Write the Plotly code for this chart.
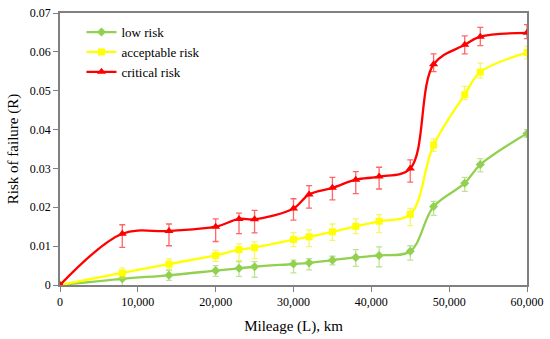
import plotly.graph_objects as go

mileage = [0, 8000, 14000, 20000, 23000, 25000, 30000, 32000, 35000, 38000, 41000, 45000, 48000, 52000, 54000, 60000]

low_risk = [0, 0.0016, 0.0025, 0.0037, 0.0043, 0.0047, 0.0054, 0.0057, 0.0064, 0.0071, 0.0076, 0.0087, 0.0202, 0.0262, 0.0310, 0.0390]
low_err_plus = [0, 0.0013, 0.0013, 0.0013, 0.0017, 0.0013, 0.0010, 0.0011, 0.0010, 0.0020, 0.0022, 0.0014, 0.0013, 0.0015, 0.0015, 0.0010]
low_err_minus = [0, 0.0018, 0.0013, 0.0015, 0.0021, 0.0027, 0.0023, 0.0018, 0.0012, 0.0023, 0.0029, 0.0023, 0.0023, 0.0021, 0.0019, 0.0010]

acceptable_risk = [0, 0.0031, 0.0054, 0.0076, 0.0091, 0.0096, 0.0117, 0.0124, 0.0137, 0.0151, 0.0164, 0.0182, 0.0360, 0.0490, 0.0548, 0.0598]
acc_err_plus = [0, 0.0013, 0.0013, 0.0013, 0.0015, 0.0015, 0.0018, 0.0018, 0.0020, 0.0019, 0.0017, 0.0015, 0.0016, 0.0021, 0.0023, 0.0016]
acc_err_minus = [0, 0.0013, 0.0013, 0.0015, 0.0028, 0.0028, 0.0018, 0.0025, 0.0022, 0.0019, 0.0029, 0.0029, 0.0016, 0.0013, 0.0015, 0.0016]

critical_risk = [0, 0.0132, 0.0139, 0.0150, 0.0170, 0.0169, 0.0197, 0.0233, 0.0250, 0.0271, 0.0279, 0.0300, 0.0568, 0.0618, 0.0639, 0.0649]
crit_err_plus = [0, 0.0023, 0.0018, 0.0020, 0.0015, 0.0023, 0.0025, 0.0023, 0.0027, 0.0021, 0.0024, 0.0022, 0.0027, 0.0023, 0.0024, 0.0021]
crit_err_minus = [0, 0.0035, 0.0038, 0.0038, 0.0038, 0.0035, 0.0030, 0.0035, 0.0031, 0.0036, 0.0032, 0.0035, 0.0019, 0.0023, 0.0023, 0.0015]

x_ticks = [0, 10000, 20000, 30000, 40000, 50000, 60000]
x_tick_labels = ["0", "10,000", "20,000", "30,000", "40,000", "50,000", "60,000"]
y_ticks = [0, 0.01, 0.02, 0.03, 0.04, 0.05, 0.06, 0.07]
y_tick_labels = ["0", "0.01", "0.02", "0.03", "0.04", "0.05", "0.06", "0.07"]

FONT = "Liberation Serif, DejaVu Serif, serif"

series = [
    ("low risk", low_risk, low_err_plus, low_err_minus, "#92D050", "rgba(146,208,80,0.6)", "diamond", 7),
    ("acceptable risk", acceptable_risk, acc_err_plus, acc_err_minus, "#FFFF00", "rgba(240,240,0,0.6)", "square", 7),
    ("critical risk", critical_risk, crit_err_plus, crit_err_minus, "#FF0000", "rgba(255,0,0,0.6)", "triangle-up", 8),
]

fig = go.Figure()
for name, vals, ep, em, col, ecol, sym, size in series:
    fig.add_trace(go.Scatter(
        x=mileage, y=vals, name=name, mode="lines+markers",
        line=dict(color=col, width=2.3, shape="spline", smoothing=1),
        marker=dict(color=col, symbol=sym, size=size),
        error_y=dict(type="data", symmetric=False, array=ep, arrayminus=em,
                     color=ecol, thickness=1.3, width=3),
    ))

fig.update_layout(
    width=550, height=339,
    margin=dict(l=60, r=18, t=6, b=54),
    paper_bgcolor="white", plot_bgcolor="white",
    font=dict(family=FONT, size=12, color="black"),
    showlegend=True,
    legend=dict(x=0.046, y=0.985, xanchor="left", yanchor="top",
                bgcolor="rgba(0,0,0,0)", font=dict(family=FONT, size=13),
                tracegroupgap=0),
    xaxis=dict(range=[0, 60000], tickvals=x_ticks, ticktext=x_tick_labels,
               showgrid=False, zeroline=False, showline=True, linecolor="#808080",
               linewidth=1.5, mirror=True, ticks="outside", ticklen=5, tickcolor="#808080",
               tickfont=dict(family=FONT, size=12),
               title=dict(text="Mileage (L), km", font=dict(family=FONT, size=15), standoff=12)),
    yaxis=dict(range=[0, 0.07], tickvals=y_ticks, ticktext=y_tick_labels,
               showgrid=False, zeroline=False, showline=True, linecolor="#808080",
               linewidth=1.5, mirror=True, ticks="outside", ticklen=5, tickcolor="#808080",
               tickfont=dict(family=FONT, size=12),
               title=dict(text="Risk of failure (R)", font=dict(family=FONT, size=15), standoff=8)),
)

fig.write_html("out.html", config={"displayModeBar": False},
               post_script="document.body.style.margin='0';document.body.style.overflow='hidden';")
